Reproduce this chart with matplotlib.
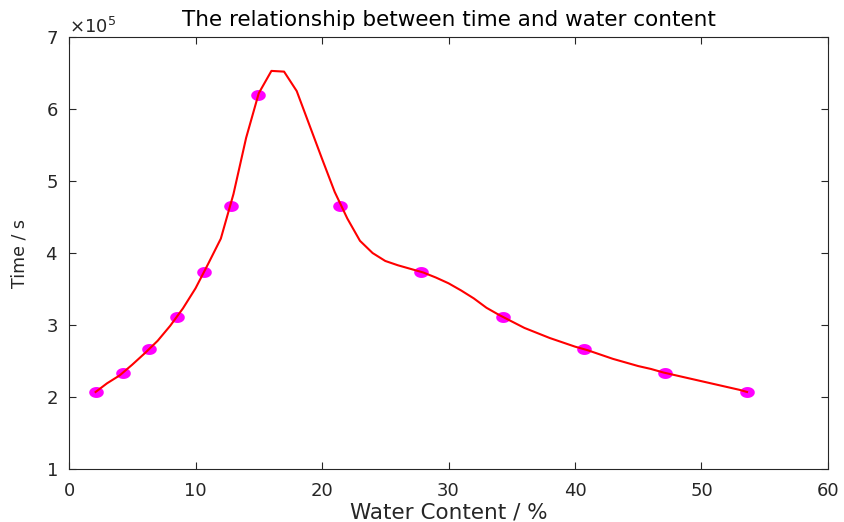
import numpy as np
import matplotlib
matplotlib.use("Agg")
import matplotlib.pyplot as plt
from matplotlib.path import Path
from matplotlib.ticker import ScalarFormatter

# Measured points (water content %, time s)
point_x = [2.1, 4.25, 6.35, 8.5, 10.65, 12.8, 14.95,
           21.45, 27.85, 34.3, 40.7, 47.15, 53.6]
point_y = [2.07e5, 2.33e5, 2.67e5, 3.11e5, 3.73e5, 4.66e5, 6.20e5,
           4.66e5, 3.73e5, 3.11e5, 2.67e5, 2.33e5, 2.07e5]

# Fitted curve
curve_x = [2.1, 3, 4, 5, 6, 7, 8, 9, 10, 11, 12, 13, 14, 15, 16, 17, 18,
           19, 20, 21, 22, 23, 24, 25, 26, 27, 28, 29, 30, 31, 32, 33, 34,
           35, 36, 37, 38, 39, 40, 41, 42, 43, 44, 45, 46, 47, 48, 49, 50,
           51, 52, 53, 53.6]
curve_y = [2.07, 2.19, 2.30, 2.45, 2.61, 2.78, 2.99, 3.23, 3.51, 3.85,
           4.20, 4.82, 5.60, 6.22, 6.53, 6.52, 6.25, 5.78, 5.31, 4.85,
           4.48, 4.17, 4.00, 3.89, 3.83, 3.78, 3.73, 3.66, 3.58, 3.48,
           3.37, 3.24, 3.14, 3.05, 2.96, 2.89, 2.82, 2.76, 2.70, 2.65,
           2.59, 2.53, 2.48, 2.43, 2.39, 2.34, 2.30, 2.26, 2.22, 2.18,
           2.14, 2.10, 2.07]
curve_y = [v * 1e5 for v in curve_y]

x_ticks = [0, 10, 20, 30, 40, 50, 60]
y_ticks = [1e5, 2e5, 3e5, 4e5, 5e5, 6e5, 7e5]

title = "The relationship between time and water content"
x_label = "Water Content / %"
y_label = "Time / s"

plt.rcParams['font.family'] = ['DejaVu Sans']

fig = plt.figure(figsize=(8.44, 5.22), dpi=100)
ax = fig.add_axes([0.0818, 0.1015, 0.8992, 0.8275])

t = np.linspace(0, 2 * np.pi, 48)
ell = Path(np.column_stack([np.cos(t), 0.72 * np.sin(t)]))

ax.plot(point_x, point_y, linestyle='none', marker=ell, markersize=9.5,
        color='#ff00ff', zorder=2)
ax.plot(curve_x, curve_y, color='#ff0000', linewidth=1.5, zorder=3)

ax.set_xlim(0, 60)
ax.set_ylim(1e5, 7e5)
ax.set_xticks(x_ticks)
ax.set_yticks(y_ticks)

fmt = ScalarFormatter(useMathText=True)
fmt.set_powerlimits((0, 0))
ax.yaxis.set_major_formatter(fmt)
ax.yaxis.get_offset_text().set_fontsize(13)
ax.yaxis.get_offset_text().set_color('#404040')

gray = '#262626'
for s in ax.spines.values():
    s.set_color(gray)
    s.set_linewidth(0.8)
ax.tick_params(axis='both', direction='in', length=5, width=0.8, colors=gray,
               labelsize=13, top=True, right=True)
ax.tick_params(axis='x', pad=9)
ax.tick_params(axis='y', pad=8)
for lab in ax.get_xticklabels() + ax.get_yticklabels():
    lab.set_color(gray)

ax.set_title(title, fontsize=15.5, color='#000000', pad=8)
ax.set_xlabel(x_label, fontsize=15.5, color=gray, labelpad=2)
ax.set_ylabel(y_label, fontsize=12.5, color=gray, labelpad=12)

fig.savefig("out.png", dpi=100)
